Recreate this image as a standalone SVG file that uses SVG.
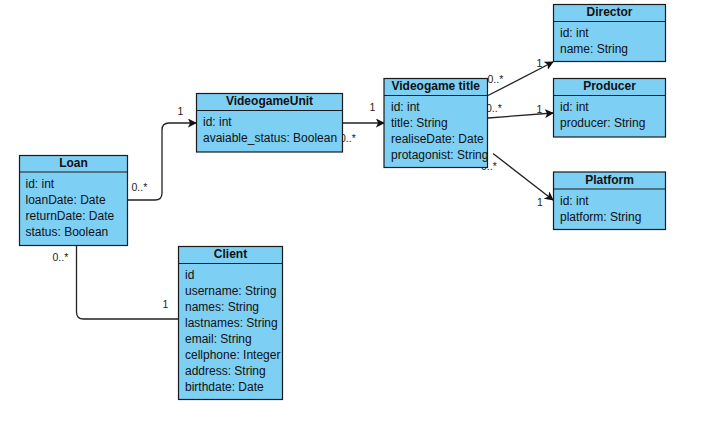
<svg xmlns="http://www.w3.org/2000/svg" width="715" height="425" viewBox="0 0 715 425">
  <style>
    .box { fill: #7ecff4; stroke: #1a1a1a; stroke-width: 1.2; }
    .sep { stroke: #1a1a1a; stroke-width: 1.2; }
    .title { font-family: "Liberation Sans", Arial, sans-serif; font-size: 12px; font-weight: bold; fill: #111; text-anchor: middle; }
    .attr { font-family: "Liberation Sans", Arial, sans-serif; font-size: 12px; fill: #111; }
    .edge { fill: none; stroke: #222; stroke-width: 1.3; }
    .lbl { font-family: "Liberation Sans", Arial, sans-serif; font-size: 10.5px; fill: #222; }
    .bg { fill: #fff; }
  </style>
  <defs>
    <marker id="arrow" viewBox="0 0 10 10" refX="9" refY="5" markerWidth="9" markerHeight="9" markerUnits="userSpaceOnUse" orient="auto">
      <path d="M0,0 L10,5 L0,10 L2.5,5 Z" fill="#111"/>
    </marker>
  </defs>
  <rect width="715" height="425" fill="#fff"/>

  <g id="connectors">
    <path class="edge" d="M127.5,200 H155 Q162,200 162,193 V130 Q162,123 169,123 H196" marker-end="url(#arrow)"/>
    <path class="edge" d="M342.5,123 H384" marker-end="url(#arrow)"/>
    <path class="edge" d="M488,95.5 L553,62" marker-end="url(#arrow)"/>
    <path class="edge" d="M488,118 L553,113" marker-end="url(#arrow)"/>
    <path class="edge" d="M493,153.5 L553,200" marker-end="url(#arrow)"/>
    <path class="edge" d="M76.5,245.5 V312 Q76.5,319 83.5,319 H178.5"/>
    <text class="lbl" x="131.5" y="191">0..*</text>
    <text class="lbl" x="177.5" y="114.5">1</text>
    <rect class="bg" x="339" y="132" width="18" height="12"/>
    <text class="lbl" x="340" y="142">0..*</text>
    <text class="lbl" x="369.5" y="111">1</text>
    <rect class="bg" x="487" y="74" width="18" height="11"/>
    <text class="lbl" x="487.5" y="83">0..*</text>
    <text class="lbl" x="536.5" y="66.5">1</text>
    <rect class="bg" x="485" y="103" width="18" height="11"/>
    <text class="lbl" x="486" y="112">0..*</text>
    <text class="lbl" x="536.5" y="112.5">1</text>
    <rect class="bg" x="480" y="160" width="18" height="11"/>
    <text class="lbl" x="481" y="169.5">0..*</text>
    <text class="lbl" x="537" y="206">1</text>
    <text class="lbl" x="52.5" y="261">0..*</text>
    <text class="lbl" x="162.5" y="308">1</text>
  </g>

  <g id="Loan">
    <rect class="box" x="19.5" y="155.5" width="108" height="90"/>
    <line class="sep" x1="19.5" y1="172" x2="127.5" y2="172"/>
    <text class="title" x="73.5" y="167">Loan</text>
    <text class="attr" x="25.5" y="187.5">id: int</text>
    <text class="attr" x="25.5" y="203.5">loanDate: Date</text>
    <text class="attr" x="25.5" y="219.5">returnDate: Date</text>
    <text class="attr" x="25.5" y="235.5">status: Boolean</text>
  </g>

  <g id="VideogameUnit">
    <rect class="box" x="196.5" y="93.5" width="146" height="58.5"/>
    <line class="sep" x1="196.5" y1="110.5" x2="342.5" y2="110.5"/>
    <text class="title" x="269.5" y="105">VideogameUnit</text>
    <text class="attr" x="203" y="126">id: int</text>
    <text class="attr" x="203" y="142">avaiable_status: Boolean</text>
  </g>

  <g id="VideogameTitle">
    <rect class="box" x="384" y="78.5" width="103.5" height="89"/>
    <line class="sep" x1="384" y1="95.5" x2="487.5" y2="95.5"/>
    <text class="title" x="435.7" y="90">Videogame title</text>
    <text class="attr" x="391" y="111">id: int</text>
    <text class="attr" x="391" y="127">title: String</text>
    <text class="attr" x="391" y="143">realiseDate: Date</text>
    <text class="attr" x="391" y="159">protagonist: String</text>
  </g>

  <g id="Director">
    <rect class="box" x="553.5" y="4.5" width="112" height="57"/>
    <line class="sep" x1="553.5" y1="21.5" x2="665.5" y2="21.5"/>
    <text class="title" x="609.5" y="16">Director</text>
    <text class="attr" x="560" y="37">id: int</text>
    <text class="attr" x="560" y="53">name: String</text>
  </g>

  <g id="Producer">
    <rect class="box" x="553.5" y="78.5" width="112" height="58.5"/>
    <line class="sep" x1="553.5" y1="95.5" x2="665.5" y2="95.5"/>
    <text class="title" x="609.5" y="90">Producer</text>
    <text class="attr" x="560" y="111">id: int</text>
    <text class="attr" x="560" y="127">producer: String</text>
  </g>

  <g id="Platform">
    <rect class="box" x="553.5" y="172" width="112" height="57.5"/>
    <line class="sep" x1="553.5" y1="189" x2="665.5" y2="189"/>
    <text class="title" x="609.5" y="184">Platform</text>
    <text class="attr" x="560" y="204.5">id: int</text>
    <text class="attr" x="560" y="220.5">platform: String</text>
  </g>

  <g id="Client">
    <rect class="box" x="178.5" y="246.5" width="104" height="153"/>
    <line class="sep" x1="178.5" y1="263.5" x2="282.5" y2="263.5"/>
    <text class="title" x="230.5" y="258">Client</text>
    <text class="attr" x="185" y="278.5">id</text>
    <text class="attr" x="185" y="294.5">username: String</text>
    <text class="attr" x="185" y="310.5">names: String</text>
    <text class="attr" x="185" y="326.5">lastnames: String</text>
    <text class="attr" x="185" y="342.5">email: String</text>
    <text class="attr" x="185" y="358.5">cellphone: Integer</text>
    <text class="attr" x="185" y="374.5">address: String</text>
    <text class="attr" x="185" y="390.5">birthdate: Date</text>
  </g>
</svg>
